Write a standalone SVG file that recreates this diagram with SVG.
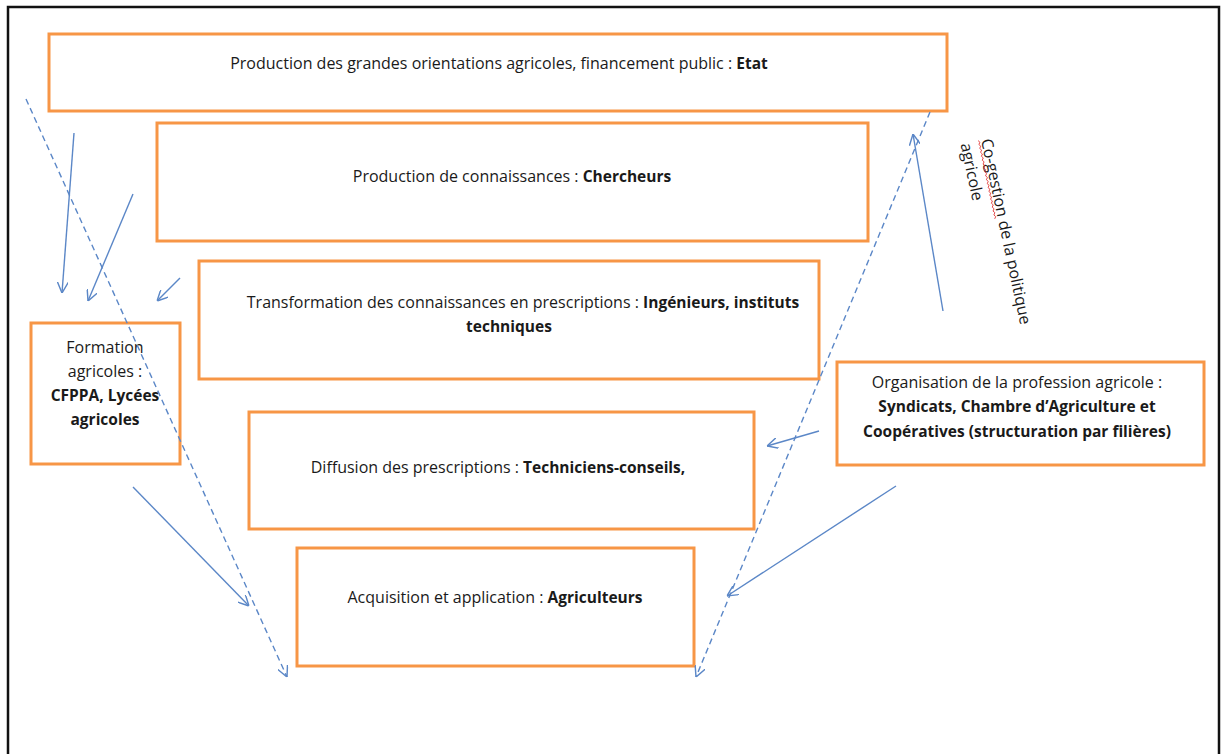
<svg xmlns="http://www.w3.org/2000/svg" width="1221" height="754" viewBox="0 0 1221 754">
<defs>
<style>
.box{fill:#fff;stroke:#f79646;stroke-width:3}
.t{font-family:"Open Sans","Liberation Sans",Arial,sans-serif;font-size:16px;fill:#1a1a1a;text-anchor:middle}
.r{font-family:"Open Sans","Liberation Sans",Arial,sans-serif;font-size:16px;fill:#1a1a1a}
.b{font-weight:bold;font-size:15.5px}
.c{fill:none;stroke:#5b87c7;stroke-width:1.4;marker-end:url(#ah)}
.d{stroke-dasharray:6 4}
</style>
<marker id="ah" viewBox="0 0 10 10" refX="10" refY="5" markerWidth="11" markerHeight="11" markerUnits="userSpaceOnUse" orient="auto">
<path d="M0,0 L10,5 L0,10" fill="none" stroke="#5b87c7" stroke-width="1.3"/>
</marker>
</defs>
<rect width="1221" height="754" fill="#fff"/>
<path d="M8,760 V7 H1219 V760" fill="none" stroke="#111" stroke-width="2.5"/>

<g id="etat"><rect class="box" x="49" y="34" width="898" height="77"/>
<text class="t" x="499" y="69">Production des grandes orientations agricoles, financement public : <tspan class="b">Etat</tspan></text></g>

<g id="chercheurs"><rect class="box" x="157" y="123" width="711" height="118"/>
<text class="t" x="512" y="182">Production de connaissances : <tspan class="b">Chercheurs</tspan></text></g>

<g id="ingenieurs"><rect class="box" x="199" y="261" width="620" height="118"/>
<text class="t" x="523" y="308">Transformation des connaissances en prescriptions : <tspan class="b">Ingénieurs, instituts</tspan></text>
<text class="t b" x="509" y="332">techniques</text></g>

<g id="formation"><rect class="box" x="31" y="323" width="149" height="141"/>
<text class="t" x="105" y="353">Formation</text>
<text class="t" x="105" y="377">agricoles :</text>
<text class="t b" x="105" y="401">CFPPA, Lycées</text>
<text class="t b" x="105" y="425">agricoles</text></g>

<g id="organisation"><rect class="box" x="837" y="362" width="367" height="103"/>
<text class="t" x="1017" y="388">Organisation de la profession agricole :</text>
<text class="t b" x="1017" y="412">Syndicats, Chambre d’Agriculture et</text>
<text class="t b" x="1017" y="437">Coopératives (structuration par filières)</text></g>

<g id="diffusion"><rect class="box" x="249" y="412" width="505" height="117"/>
<text class="t" x="498" y="473">Diffusion des prescriptions : <tspan class="b">Techniciens-conseils,</tspan></text></g>

<g id="agriculteurs"><rect class="box" x="297" y="548" width="397" height="118"/>
<text class="t" x="495" y="603">Acquisition et application : <tspan class="b">Agriculteurs</tspan></text></g>

<g id="cogestion-label" transform="translate(981,140) rotate(78)">
<text class="r">Co-gestion de la politique</text>
<text class="r" x="0" y="21">agricole</text>
<path d="M0,3 l2,-1.5 l2,1.5 l2,-1.5 l2,1.5 l2,-1.5 l2,1.5 l2,-1.5 l2,1.5 l2,-1.5 l2,1.5 l2,-1.5 l2,1.5 l2,-1.5 l2,1.5 l2,-1.5 l2,1.5 l2,-1.5 l2,1.5 l2,-1.5 l2,1.5 l2,-1.5 l2,1.5 l2,-1.5 l2,1.5 l2,-1.5 l2,1.5 l2,-1.5 l2,1.5 l2,-1.5 l2,1.5 l2,-1.5 l2,1.5 l2,-1.5 l2,1.5 l2,-1.5 l2,1.5 l2,-1.5 l2,1.5 l2,-1.5 l2,1.5" fill="none" stroke="#e03030" stroke-width="0.8"/>
</g>

<g id="connectors">
<line class="c d" x1="26" y1="99" x2="287" y2="677"/>
<line class="c d" x1="930" y1="112" x2="696" y2="677"/>
<line class="c" x1="74" y1="133" x2="62" y2="293"/>
<line class="c" x1="133" y1="194" x2="88" y2="301"/>
<line class="c" x1="180" y1="278" x2="157" y2="301"/>
<line class="c" x1="943" y1="311" x2="913" y2="134"/>
<line class="c" x1="819" y1="431" x2="767" y2="446"/>
<line class="c" x1="896" y1="486" x2="727" y2="596"/>
<line class="c" x1="133" y1="487" x2="249" y2="606"/>
</g>
</svg>
